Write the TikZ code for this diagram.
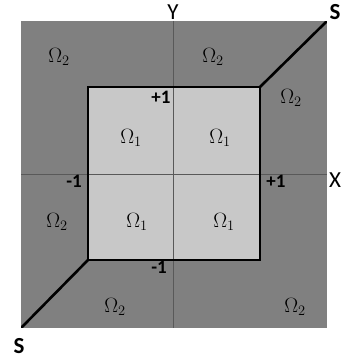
\documentclass[tikz,border=0pt]{standalone}
\usepackage{fontspec}
\newfontfamily\lbl{Carlito}
\begin{document}
\begin{tikzpicture}[x=1pt,y=-1pt,
  omega/.style={font=\fontsize{20}{24}\selectfont},
  tick/.style={font=\lbl\bfseries\fontsize{19}{22}\selectfont, inner sep=0pt},
  axislbl/.style={font=\lbl\fontsize{23}{26}\selectfont, inner sep=0pt},
  slbl/.style={font=\lbl\bfseries\fontsize{23}{26}\selectfont, inner sep=0pt},
  sline/.style={line width=2.6pt, line cap=round},
  axis/.style={line width=0.6pt, draw=black!65}]
\useasboundingbox (0,0) rectangle (342,358);
\fill[fill={rgb,255:red,128;green,128;blue,128}] (21,21) rectangle (327,328);
\fill[fill={rgb,255:red,200;green,200;blue,200}] (88,87) rectangle (260,260);
% axes
\coordinate (yt) at (173,21);
\coordinate (yb) at (173,328);
\coordinate (xl) at (21,174);
\coordinate (xr) at (327,174);
\draw[axis] (yt) -- (yb);
\draw[axis] (xl) -- (xr);
% square
\draw[line width=2.6pt] (88,87) rectangle (260,260);
\coordinate (tr) at (260,87);
\coordinate (bl) at (88,260);
\coordinate (sa) at (326,22);
\coordinate (sb) at (22,327);
\draw[sline] (tr) -- (sa);
\draw[sline] (bl) -- (sb);
% labels
\node[axislbl] (ylab) at (173,12) {Y};
\node[axislbl] (xlab) at (335,180) {X};
\node[slbl] (s1) at (335,12) {S};
\node[slbl] (s2) at (19,346) {S};
\node[tick] (p1) at (161,97) {+1};
\node[tick] (m1x) at (74,181) {-1};
\node[tick] (p1x) at (276,181) {+1};
\node[tick] (m1y) at (159,267) {-1};
\node[omega] (a1) at (59,57) {$\Omega_2$};
\node[omega] (a2) at (213,57) {$\Omega_2$};
\node[omega] (a3) at (291,98) {$\Omega_2$};
\node[omega] (a4) at (57,222) {$\Omega_2$};
\node[omega] (a5) at (115,307) {$\Omega_2$};
\node[omega] (a6) at (295,307) {$\Omega_2$};
\node[omega] (b1) at (131,138) {$\Omega_1$};
\node[omega] (b2) at (220,138) {$\Omega_1$};
\node[omega] (b3) at (137,222) {$\Omega_1$};
\node[omega] (b4) at (224,222) {$\Omega_1$};
\end{tikzpicture}
\end{document}
